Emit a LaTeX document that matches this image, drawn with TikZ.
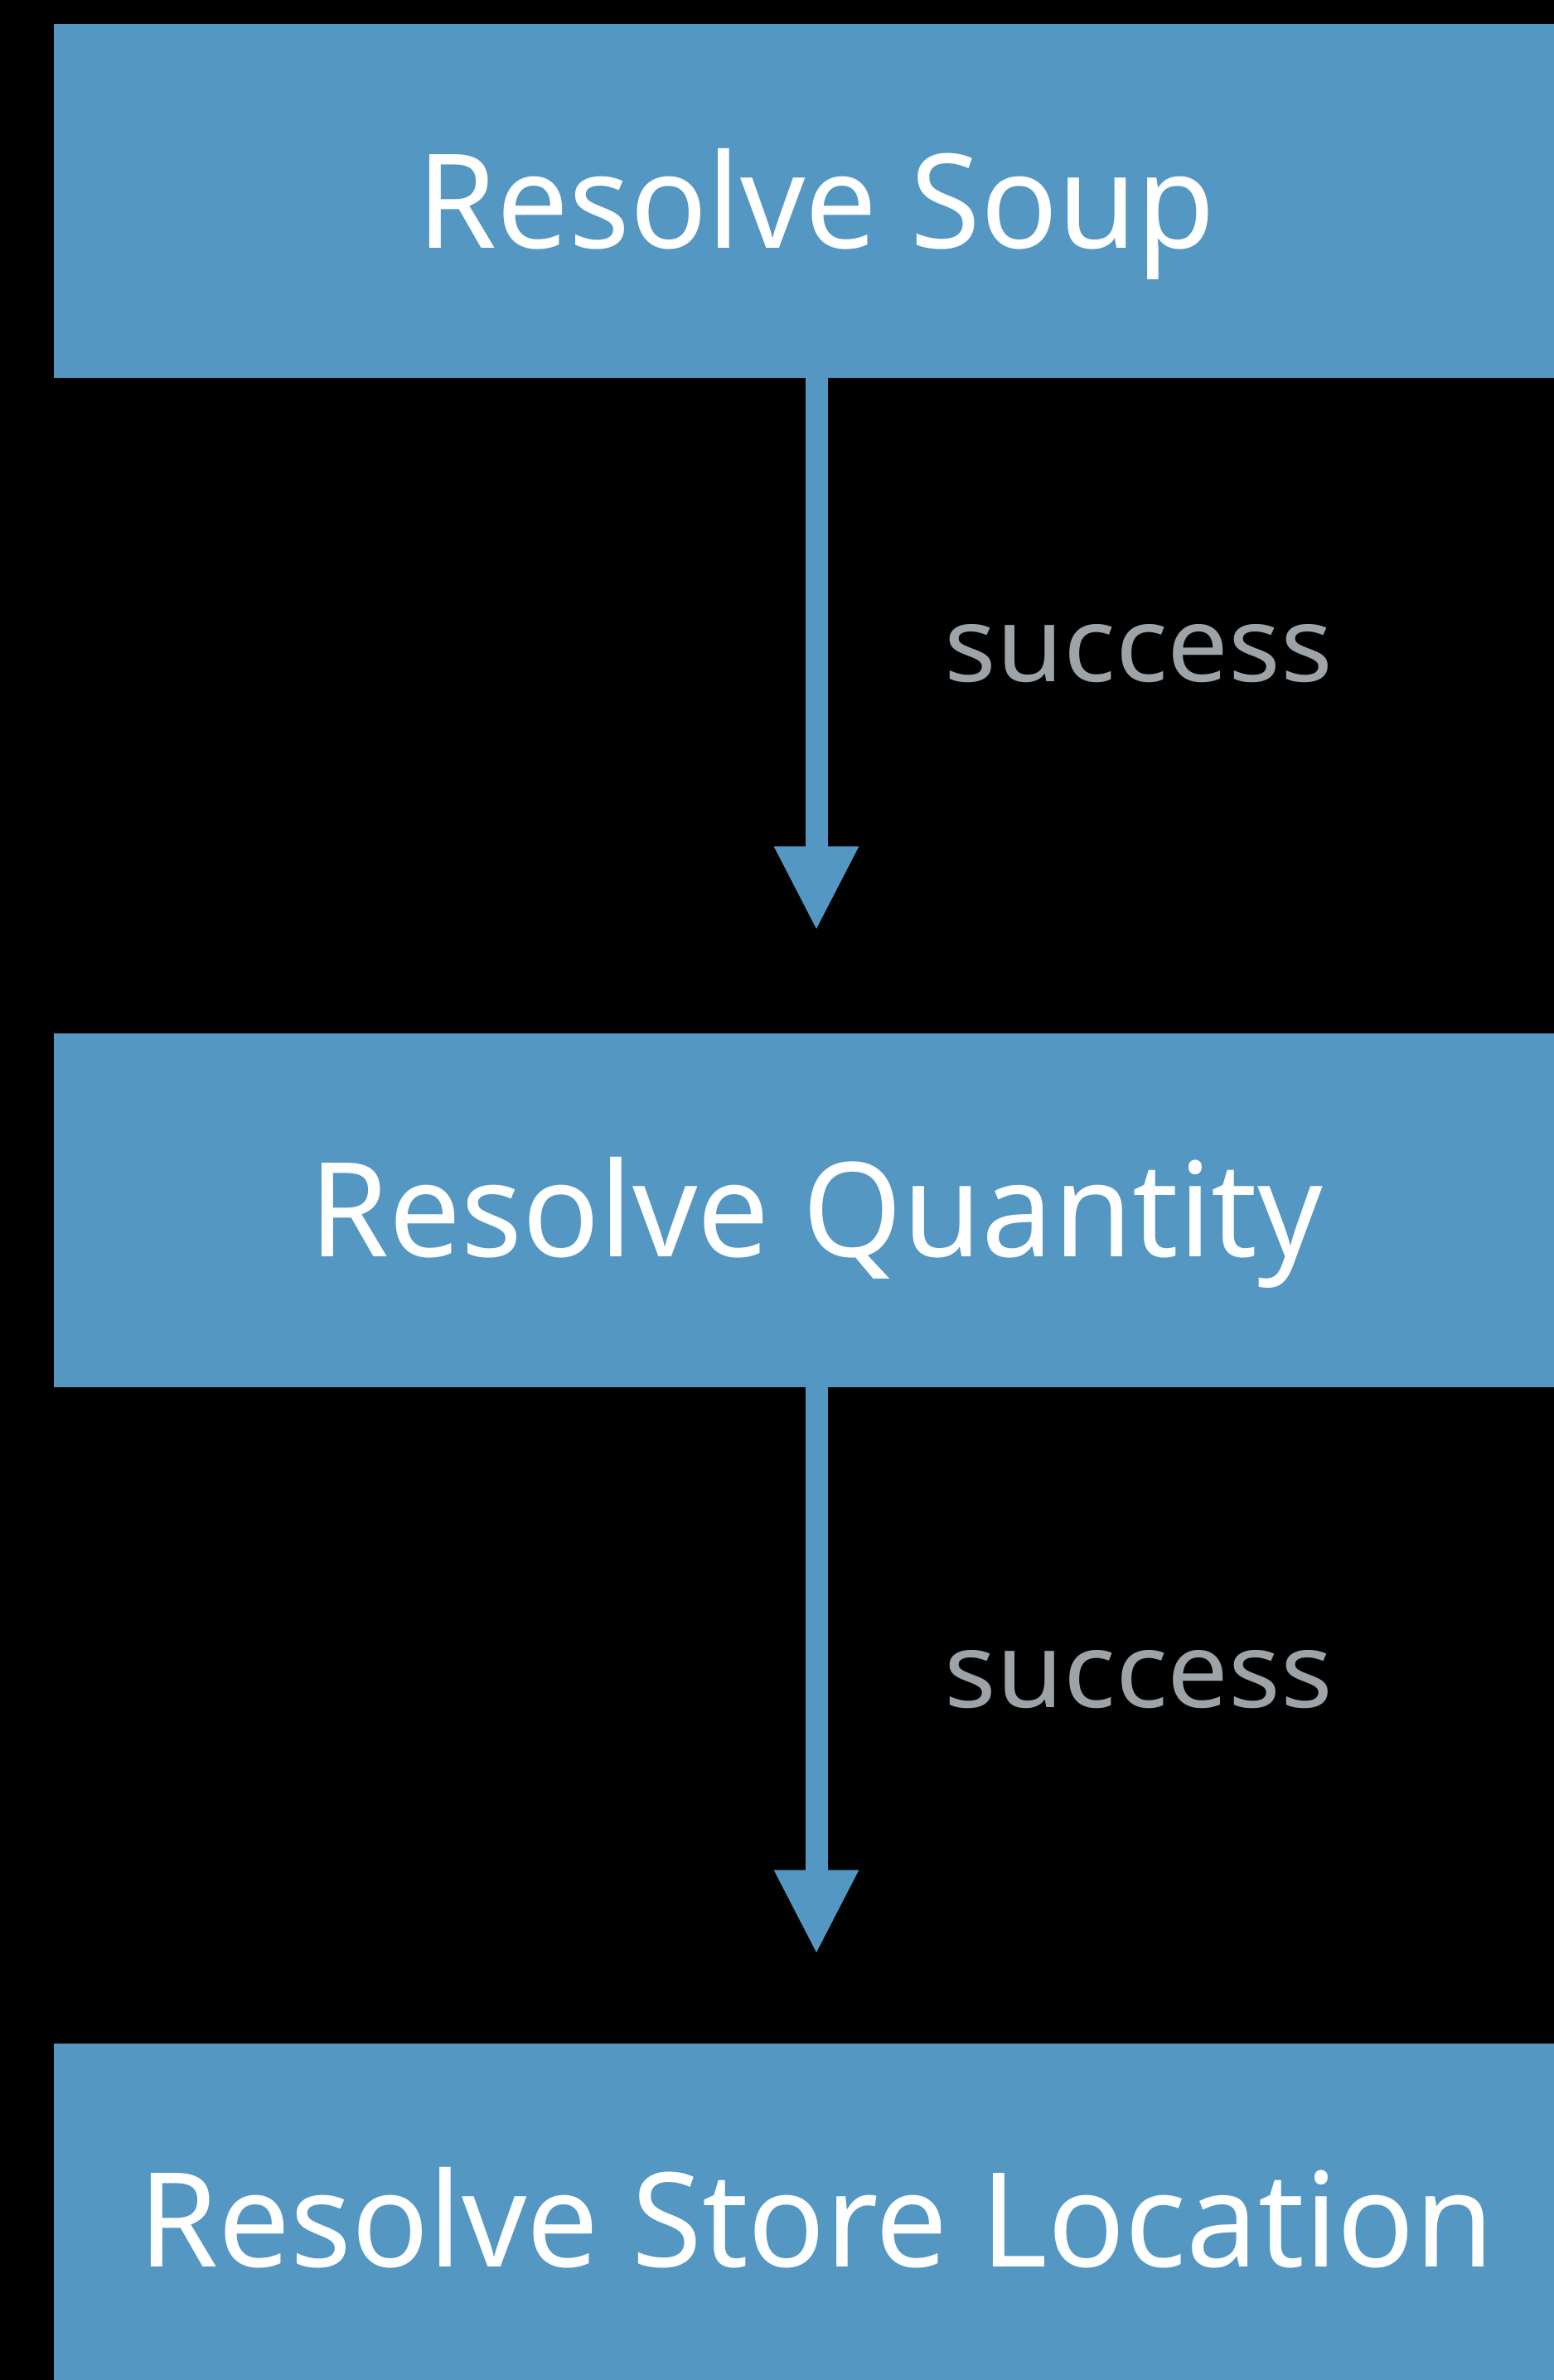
\documentclass[tikz,border=0pt]{standalone}
\usepackage{fontspec}
\setmainfont{Noto Sans}
\newfontfamily\stagefont[FakeStretch=0.975]{Noto Sans}
\newfontfamily\outcomefont[FakeStretch=1.035]{Noto Sans}
\usetikzlibrary{positioning, arrows.meta}
\definecolor{stepblue}{RGB}{83,151,194}
\definecolor{labelgray}{RGB}{158,163,168}

\begin{document}
\begin{tikzpicture}[
    stage/.style={fill=stepblue, text=white, minimum width=36.8cm, minimum height=8.54cm,
        inner sep=0pt, text height=2.26cm, text depth=0pt, font=\stagefont\fontsize{90}{100}\selectfont},
    flow/.style={stepblue, line width=0.54cm, -{Triangle[width=1.89cm, length=2.04cm]}},
    outcome/.style={text=labelgray, inner sep=0pt, font=\outcomefont\fontsize{72}{80}\selectfont}]
    \fill[black] (0,0) rectangle (37.5,-57.44);
    \useasboundingbox (0,0) rectangle (37.5,-57.44);
    \node[stage] (soup) at (19.7,-4.85) {Resolve Soup};
    \node[stage, below=15.8cm of soup] (qty) {Resolve Quantity};
    \node[stage, below=15.83cm of qty] (store) {Resolve Store Location};
    \foreach \a/\b/\p/\s in {soup/qty/0.42/2.46cm, qty/store/0.446/2.14cm}
        \draw[flow, shorten >=\s] (\a) -- (\b) node[outcome, pos=\p, right=2.82cm] {success};
\end{tikzpicture}
\end{document}
